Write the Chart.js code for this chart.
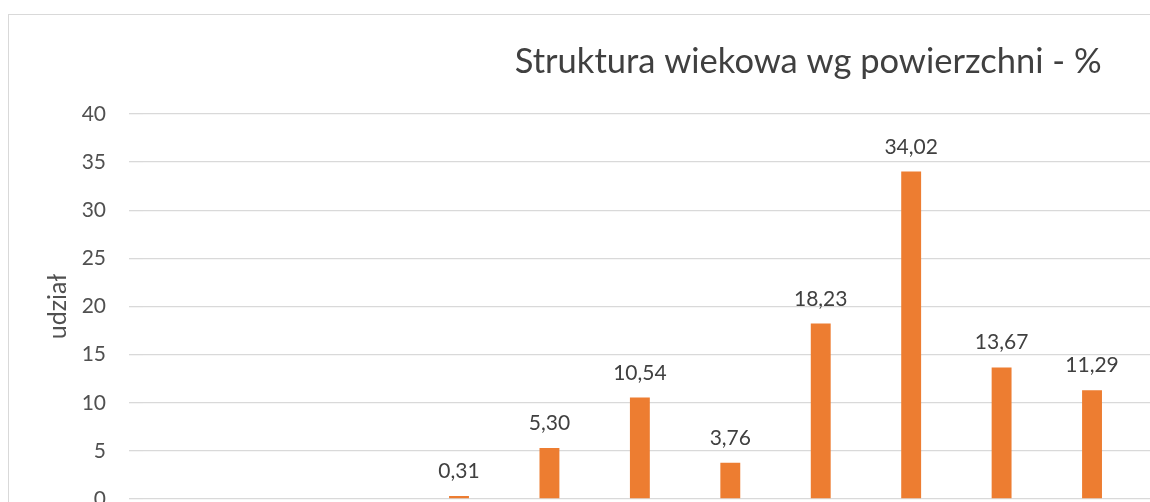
<!DOCTYPE html>
<html>
<head>
<meta charset="utf-8">
<script src="https://cdn.jsdelivr.net/npm/chart.js@4/dist/chart.umd.min.js"></script>
<style>
  html, body { margin: 0; padding: 0; background: #ffffff; overflow: hidden; width: 1150px; height: 502px; }
  #frame { position: absolute; left: 8px; top: 14px; border: 1px solid #d9d9d9; width: 1598px; height: 554px; background: #fff; }
  canvas { display: block; }
</style>
</head>
<body>
<div id="frame"><canvas id="c" width="1598" height="554"></canvas></div>
<script>
// --- data ---
const categories = ["I", "II", "III", "IV", "V", "VI", "VII", "VIII", "IX", "X", "XI", "XII", "XIII", "XIV", "XV", "XVI"];
const shareValues = [null, null, null, 0.31, 5.30, 10.54, 3.76, 18.23, 34.02, 13.67, 11.29, null, null, null, null, null];
const yTicks = [0, 5, 10, 15, 20, 25, 30, 35, 40];
const chartTitle = "Struktura wiekowa wg powierzchni - %";
const yAxisTitle = "udział";

const FONT = "Lato, 'Open Sans', sans-serif";
const TEXT = "#505050";
const GRID = "#d9d9d9";

const valueLabels = {
  id: 'valueLabels',
  afterDatasetsDraw(chart) {
    const ctx = chart.ctx;
    const meta = chart.getDatasetMeta(0);
    ctx.save();
    ctx.font = "21px " + FONT;
    ctx.fillStyle = "#404040";
    ctx.textAlign = "center";
    ctx.textBaseline = "alphabetic";
    meta.data.forEach((el, i) => {
      const v = shareValues[i];
      if (v === null || v === undefined) return;
      ctx.fillText(v.toFixed(2).replace('.', ','), el.x, el.y - 18);
    });
    ctx.restore();
  }
};

new Chart(document.getElementById('c'), {
  type: 'bar',
  data: {
    labels: categories,
    datasets: [{
      data: shareValues,
      backgroundColor: '#ED7D31',
      borderWidth: 0,
      barPercentage: 0.22,
      categoryPercentage: 1.0
    }]
  },
  options: {
    responsive: false,
    animation: false,
    devicePixelRatio: 1,
    layout: { padding: { left: 18, right: 17.6, top: 0, bottom: 20 } },
    plugins: {
      legend: { display: false },
      tooltip: { enabled: false },
      title: {
        display: true,
        text: chartTitle,
        color: "#404040",
        font: { family: FONT, size: 34.5, weight: 'normal' },
        padding: { top: 26.3, bottom: 31.3 }
      }
    },
    scales: {
      x: {
        grid: { display: false },
        border: { display: false },
        ticks: { color: TEXT, font: { family: FONT, size: 21 } },
        afterFit(scale) { scale.height = 50; }
      },
      y: {
        min: 0,
        max: 40,
        afterBuildTicks(scale) { scale.ticks = yTicks.map(v => ({ value: v })); },
        ticks: { color: TEXT, padding: 23, font: { family: FONT, size: 21 } },
        grid: { color: GRID, lineWidth: 1.3, drawTicks: true, tickLength: 13.5, tickColor: GRID },
        border: { display: false },
        title: {
          display: true,
          text: yAxisTitle,
          color: TEXT,
          font: { family: FONT, size: 25 },
          padding: { top: 16, bottom: 0 }
        },
        afterFit(scale) { scale.width = 115.5; }
      }
    }
  },
  plugins: [valueLabels]
});
</script>
</body>
</html>
